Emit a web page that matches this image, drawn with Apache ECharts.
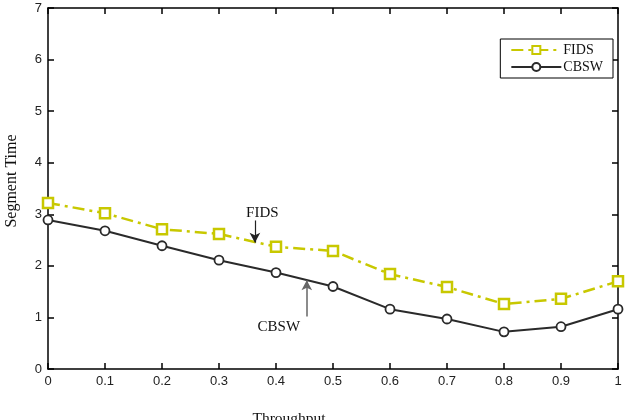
<!DOCTYPE html>
<html><head><meta charset="utf-8">
<script src="https://cdn.jsdelivr.net/npm/echarts@6/dist/echarts.min.js"></script>
<style>html,body{margin:0;padding:0;background:#fff}#c{width:627px;height:420px}</style>
</head><body><div id="c"></div>
<script>
const xValues = [0, 0.1, 0.2, 0.3, 0.4, 0.5, 0.6, 0.7, 0.8, 0.9, 1.0];
const fids = [3.22, 3.02, 2.71, 2.62, 2.37, 2.29, 1.84, 1.59, 1.26, 1.36, 1.70];
const cbsw = [2.89, 2.68, 2.39, 2.11, 1.87, 1.60, 1.16, 0.97, 0.72, 0.82, 1.16];
const seriesNames = ['FIDS', 'CBSW'];
const xTitle = 'Throughput';
const yTitle = 'Segment Time';

const chart = echarts.init(document.getElementById('c'));
const serif = '"Liberation Serif","DejaVu Serif",serif';
const sans = '"Liberation Sans",Arial,sans-serif';
const axisBase = {
  axisLine: {show: true, onZero: false, lineStyle: {color: '#000', width: 1.5}},
  axisTick: {show: true, inside: true, length: 6, lineStyle: {color: '#000', width: 1.5}},
  splitLine: {show: false}
};
chart.setOption({
  animation: false,
  grid: {left: 48, right: 9, top: 8, bottom: 51, containLabel: false, outerBoundsMode: 'none'},
  legend: {
    right: 14, top: 39, orient: 'vertical', itemGap: 3,
    backgroundColor: '#fff', borderColor: '#000', borderWidth: 1, borderRadius: 0,
    padding: [4, 10, 4, 10], itemWidth: 50, itemHeight: 10,
    textStyle: {fontFamily: serif, fontSize: 14, color: '#111', padding: [0, 0, 0, -3]},
    data: seriesNames
  },
  xAxis: [
    Object.assign({type: 'value', min: 0, max: 1, interval: 0.1, position: 'bottom',
      name: xTitle, nameLocation: 'middle', nameGap: 42,
      nameTextStyle: {fontFamily: serif, fontSize: 15.5, color: '#111', padding: [0, 88, 0, 0]},
      axisLabel: {fontFamily: sans, fontSize: 13, color: '#222', margin: 6,
        formatter: v => (Math.round(v * 10) / 10).toString()}}, axisBase),
    Object.assign({type: 'value', min: 0, max: 1, interval: 0.1, position: 'top',
      axisLabel: {show: false}}, axisBase)
  ],
  yAxis: [
    Object.assign({type: 'value', min: 0, max: 7, interval: 1, position: 'left',
      name: yTitle, nameLocation: 'middle', nameGap: 28, nameRotate: 90,
      nameTextStyle: {fontFamily: serif, fontSize: 16, color: '#111', padding: [0, 0, 0, 15]},
      axisLabel: {fontFamily: sans, fontSize: 13, color: '#222', margin: 6}}, axisBase),
    Object.assign({type: 'value', min: 0, max: 7, interval: 1, position: 'right',
      axisLabel: {show: false}}, axisBase)
  ],
  series: [
    {
      name: seriesNames[0], type: 'line',
      data: xValues.map((x, i) => [x, fids[i]]),
      symbol: 'rect', symbolSize: 10, showAllSymbol: true,
      lineStyle: {color: '#c8c800', width: 2.5, type: [12, 5, 3, 5]},
      itemStyle: {color: '#fff', borderColor: '#c8c800', borderWidth: 2.5},
      color: '#c8c800',
      z: 3,
      markLine: {
        silent: true, symbol: ['none', 'arrow'], symbolSize: [8, 10],
        lineStyle: {color: '#222', width: 1.2, type: 'solid'},
        label: {show: false},
        data: [[{coord: [0.363, 2.88]}, {coord: [0.363, 2.45]}]]
      },
      markPoint: {
        symbol: 'circle', symbolSize: 0, silent: true,
        label: {show: true, formatter: 'FIDS', fontFamily: serif, fontSize: 15, color: '#111'},
        data: [{coord: [0.376, 3.02]}]
      }
    },
    {
      name: seriesNames[1], type: 'line',
      data: xValues.map((x, i) => [x, cbsw[i]]),
      symbol: 'circle', symbolSize: 9, showAllSymbol: true,
      lineStyle: {color: '#2a2a2a', width: 2},
      itemStyle: {color: '#fff', borderColor: '#2a2a2a', borderWidth: 1.8},
      color: '#2a2a2a',
      z: 4,
      markLine: {
        silent: true, symbol: ['none', 'arrow'], symbolSize: [8, 10],
        lineStyle: {color: '#666', width: 1.5, type: 'solid'},
        label: {show: false},
        data: [[{coord: [0.454, 1.02]}, {coord: [0.454, 1.72]}]]
      },
      markPoint: {
        symbol: 'circle', symbolSize: 0, silent: true,
        label: {show: true, formatter: 'CBSW', fontFamily: serif, fontSize: 15, color: '#111'},
        data: [{coord: [0.405, 0.81]}]
      }
    }
  ]
});
</script></body></html>
